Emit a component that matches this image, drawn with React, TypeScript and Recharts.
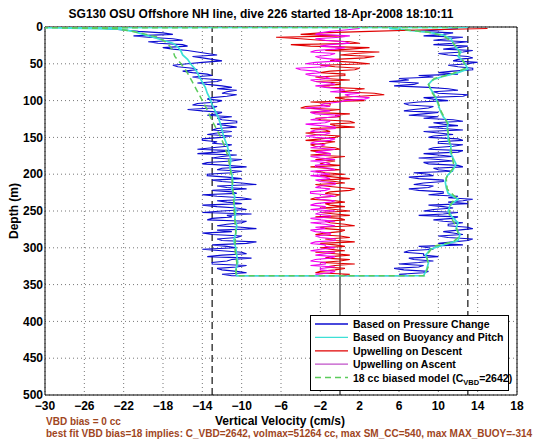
import { ScatterChart, Scatter, XAxis, YAxis, CartesianGrid, ReferenceLine } from "recharts";

// depth grids (m) for the noisy profiles
const depthGrid = [
  2, 6, 10, 14, 18, 22, 26, 30, 34, 38,
  42, 46, 50, 54, 58, 62, 66, 70, 74, 78,
  82, 86, 90, 94, 98, 102, 106, 110, 114, 118,
  122, 126, 130, 134, 138, 142, 146, 150, 154, 158,
  162, 166, 170, 174, 178, 182, 186, 190, 194, 198,
  202, 206, 210, 214, 218, 222, 226, 230, 234, 238,
  242, 246, 250, 254, 258, 262, 266, 270, 274, 278,
  282, 286, 290, 294, 298, 302, 306, 310, 314, 318,
  322, 326, 330, 334, 338,
];
const midGrid = [
  4, 8, 12, 16, 20, 24, 28, 32, 36, 40,
  44, 48, 52, 56, 60, 64, 68, 72, 76, 80,
  84, 88, 92, 96, 100, 104, 108, 112, 116, 120,
  124, 128, 132, 136, 140, 144, 148, 152, 156, 160,
  164, 168, 172, 176, 180, 184, 188, 192, 196, 200,
  204, 208, 212, 216, 220, 224, 228, 232, 236, 240,
  244, 248, 252, 256, 260, 264, 268, 272, 276, 280,
  284, 288, 292, 296, 300, 304, 308, 312, 316, 320,
  324, 328, 332, 336,
];

// pressure-change velocity, descent (cm/s)
const blueDown = [
  -24, -20.5, -17, -19.5, -16, -18.5, -15.5, -17, -14.5, -12.5,
  -14, -12, -15.5, -16.5, -14.5, -15, -13, -14, -12.5, -13.5,
  -11, -10.5, -12, -11.5, -13.5, -12.5, -15, -13, -14, -12.5,
  -11, -12, -10.5, -11.5, -12.5, -11, -13.5, -12, -14, -13,
  -11.5, -14.5, -12.5, -10.5, -13, -11, -14, -9.5, -12.5, -11,
  -13.5, -10, -12, -8.5, -11.5, -13, -10.5, -12.5, -9, -11.5,
  -14, -10.5, -12, -9, -11, -13.5, -10, -12.5, -8.5, -11,
  -13, -10.5, -12, -9.5, -11.5, -14, -10, -12, -9, -11.5,
  -13, -10.5, -12, -9.5, -11,
];
const blueDownMid = [
  -22, -18, -21, -17, -19.5, -16, -18, -15.5, -13.5, -15,
  -13, -14, -17, -15, -16, -13.5, -15, -12, -14.5, -12,
  -12.5, -11.5, -10.5, -13, -12, -14.5, -12.5, -15.5, -12, -13.5,
  -12.5, -10.5, -12.5, -10.5, -13, -12.5, -11, -14, -12.5, -11,
  -13, -11, -14.5, -12, -10, -13.5, -11.5, -12, -10, -13.5,
  -11.5, -13, -10, -12.5, -9.5, -11, -14, -10, -12.5, -10,
  -12.5, -9.5, -14, -11.5, -13, -9.5, -11.5, -10, -12.5, -14,
  -10, -12.5, -8.5, -13, -10.5, -12, -9.5, -13.5, -11, -13,
  -9.5, -12.5, -10.5, -12,
];

// pressure-change velocity, ascent (cm/s), by depth
const blueUp = [
  12, 8, 10.5, 12.5, 9.5, 11.5, 13, 10.5, 12.5, 11,
  13.5, 11.5, 13, 12, 13.5, 10, 8, 6, 5, 7.5,
  9, 12, 10, 12.5, 9.5, 8, 7, 9, 6.5, 8.5,
  10, 11.5, 9.5, 12, 10.5, 8.5, 11.5, 9, 12.5, 10,
  11.5, 9, 12, 10, 8, 11.5, 9, 12.5, 10, 7.5,
  9.5, 8, 10.5, 7.5, 9, 8, 10.5, 12, 13.5, 11,
  9, 11.5, 8.5, 10.5, 12, 9.5, 12.5, 11, 13.5, 10.5,
  12.5, 11, 13, 10, 8, 9.5, 6.5, 8.5, 7, 9.5,
  6, 8, 6.5, 8.5, 7,
];
const blueUpMid = [
  10, 11.5, 8.5, 11, 13, 9.5, 12, 13.5, 10, 13,
  12, 14, 11, 13.5, 11.5, 12, 9.5, 7, 8, 5.5,
  11, 9.5, 13, 8.5, 11, 6.5, 9.5, 7.5, 10, 7,
  8.5, 12.5, 10.5, 9, 12.5, 10, 9.5, 12, 10, 12.5,
  9.5, 12.5, 8.5, 11.5, 10, 8.5, 12, 9.5, 11.5, 9,
  7, 10.5, 8.5, 9.5, 7, 10.5, 9, 11, 12.5, 13,
  10.5, 9.5, 12, 8, 11.5, 10.5, 11, 13, 12, 11.5,
  10, 13.5, 11.5, 12.5, 9, 7, 8.5, 10, 7.5, 8,
  8.5, 5.5, 9, 6,
];

// upwelling on descent
const redDown = [
  15, 3, -4, -6.5, -2, 2, -3, 1, 4, 0,
  2.5, -1, 3, -0.5, 1.5, -2, 0.5, -1.5, -2.5, 0,
  -1, 1.5, 3.5, 2, 0.5, -3, -1, -4, -1.5, 1,
  0, -2, 1.5, -0.5, -3, -1, -2.5, -0.5, -3.5, -1.5,
  -2.5, 0, -2, -3, -1, -0.5, -2, -3, 0, -1.5,
  -2, 1, -0.5, -2.5, 0, 1, -1.5, -0.5, -3, 0.5,
  -1, -2, 1, -0.5, -2.5, 0.5, -1, 1.5, -1.5, 0,
  -2.5, 1, -0.5, -2, 0.5, -1, -2.5, 1, -1.5, 0,
  1.5, -1.5, -0.5, -2.5, 0,
];
const redDownMid = [
  8, -2, 0.5, -4, 1, -5, 3, -1.5, 1.5, 3.5,
  -0.5, 1.5, -2, 2, -1, 0.5, -2.5, 1, 0, -2,
  2.5, 0, 4.5, -0.5, 2.5, -1, -3.5, 0, -3, -0.5,
  -2.5, 1, -1, 1.5, -1.5, -3.5, 0, -2, -0.5, -3,
  -0.5, -3, -1, 0.5, -2.5, -1.5, 0, -1.5, -2.5, 0.5,
  -0.5, -2, 0.5, -1.5, 1.5, -1, 0, -2.5, -0.5, -1.5,
  0.5, -0.5, -2, 1, 0, -1.5, 0.5, -2, 0.5, -1.5,
  0, -1.5, 1.5, -0.5, -2, 0.5, -0.5, -1, 1, -2,
  -0.5, 0.5, -2, 1,
];

// upwelling on ascent
const magentaUp = [
  2, -1, -2.5, 0, -1.5, 1, -2, -0.5, -3, -1,
  -2, 0, -3.5, -1.5, -4, -2, -3, -1, -2.5, -0.5,
  -1.5, 0.5, 2, 1, 2.5, 0, -2, -3.5, -1, -2.5,
  -0.5, -3, -1.5, -2, -0.5, -3, -1.5, -2.5, -1, -3,
  -2, -0.5, -2.5, -1, -2, -3, -1, -2.5, -0.5, -2,
  -3, -1, -2, -0.5, -2.5, -1.5, -3, -0.5, -2, -1,
  -3, -1.5, -0.5, -2.5, -1, -2, -3, -0.5, -1.5, -2.5,
  -1, -2, -0.5, -3, -1.5, -2, -0.5, -2.5, -1, -3,
  -1.5, -0.5, -2, -1, -1.5,
];
const magentaUpMid = [
  0.5, -2, 1, -2.5, 0.5, -1, 0.5, -2.5, -0.5, -2.5,
  -0.5, -2.5, -1, -4.5, -2.5, -3.5, -1.5, -3, -1, -2.5,
  0, -1, 0.5, 3, 0.5, -1.5, -1, -2, -3, 0,
  -2, -1, -3.5, -0.5, -2.5, -1, -3.5, -0.5, -2.5, -1.5,
  -3, -1.5, -1, -3, -0.5, -1.5, -2.5, -1, -3, -1,
  -1.5, -2.5, -0.5, -2, -1, -3, -1.5, -2.5, -0.5, -2.5,
  -1.5, -3, -2, -1, -3, -0.5, -1.5, -2.5, -3, -1,
  -2.5, -0.5, -2.5, -1.5, -0.5, -3, -1.5, -0.5, -2.5, -1.5,
  -3, -2, -0.5, -2.5,
];

// buoyancy and pitch model
const cyanDownDepth = [
  0.4, 0.8, 3, 6, 10, 14, 18, 22, 27, 32, 38, 44, 50, 56, 62,
  68, 75, 82, 90, 98, 106, 114, 122, 130, 140, 150, 160, 170, 180, 190,
  200, 210, 220, 230, 240, 250, 260, 270, 280, 290, 300, 310, 320, 330, 338,
];
const cyanDown = [
  13, -30, -22.5, -21, -20, -19, -18, -17, -16.5, -16.2, -16, -15.5, -15.2, -14.8, -14.5,
  -14.3, -14, -13.7, -13.5, -13.2, -13, -12.7, -12.4, -12.2, -12, -11.8, -11.5, -11.3, -11.1, -11.2,
  -11, -10.9, -11, -10.7, -10.8, -10.6, -10.7, -10.5, -10.6, -10.8, -10.6, -10.5, -10.4, -10.6, -10.5,
];
const cyanUpDepth = [
  338, 330, 320, 310, 302, 296, 290, 282, 274, 266, 258, 250, 242, 234, 226, 218, 210,
  202, 194, 186, 178, 170, 162, 154, 146, 138, 130, 122, 114, 106, 98, 90, 84,
  78, 72, 67, 62, 57, 52, 46, 40, 34, 28, 22, 16, 11, 7, 4, 2,
];
const cyanUp = [
  8.5, 8.8, 9, 8.7, 9.2, 10.5, 12, 12.2, 11.8, 12, 11.4, 11, 11.2, 12, 11, 10.8, 10.7,
  10.9, 11.5, 11.8, 11.5, 11.2, 11.3, 11, 11, 10.9, 11, 10.5, 10.2, 10, 9.8, 9.5, 9.2,
  9, 9.4, 10.5, 12, 13, 12.8, 12.5, 12, 12.3, 11.8, 11.5, 11.3, 10.5, 9, 6.5, 5,
];

// 18 cc biased model
const greenDownDepth = [
  0.6, 1, 2, 5, 9, 14, 20, 26, 32, 40, 48, 56, 65, 75, 85, 95,
  105, 115, 125, 135, 145, 160, 175, 190, 205, 220, 240, 260, 280, 300, 320, 338,
];
const greenDown = [
  12, -30, -23, -21.5, -20, -18.5, -17.8, -17.3, -17, -16.8, -16.3, -15.8, -15.4, -15, -14.6, -14.2,
  -13.8, -13.4, -13.1, -12.7, -12.3, -11.8, -11.4, -11.2, -11, -10.9, -10.8, -10.7, -10.6, -10.7, -10.5, -10.6,
];
const greenUpDepth = [
  338, 325, 310, 298, 292, 285, 270, 255, 240, 232, 220, 205, 190, 175, 160, 145,
  130, 115, 100, 88, 78, 70, 63, 56, 48, 40, 30, 20, 12, 7, 3,
];
const greenUp = [
  8.6, 9, 8.8, 9.5, 11.5, 12.1, 11.8, 11.1, 11.3, 11.8, 10.9, 10.8, 11.6, 11.4, 11.2, 11,
  10.9, 10.3, 9.9, 9.3, 9, 9.6, 11.5, 12.8, 12.6, 12.2, 12, 11.4, 10.5, 9, 6,
];

const xTicks = [-30, -26, -22, -18, -14, -10, -6, -2, 2, 6, 10, 14, 18];
const yTicks = [0, 50, 100, 150, 200, 250, 300, 350, 400, 450, 500];

const legendItems = [
  { label: "Based on Pressure Change", color: "#0b0bd0", dash: "" },
  { label: "Based on Buoyancy and Pitch", color: "#3de0d6", dash: "" },
  { label: "Upwelling on Descent", color: "#e00000", dash: "" },
  { label: "Upwelling on Ascent", color: "#c050c8", dash: "" },
  { label: "18 cc biased model", color: "#5ccc5c", dash: "6 4" },
];

const FONT = "'Liberation Sans', Arial, Helvetica, sans-serif";
const BROWN = "#a0461e";

function pts(depths: number[], vals: number[]) {
  return depths.map((d, i) => ({ v: vals[i], d }));
}

function merged(dA: number[], vA: number[], dB: number[], vB: number[]) {
  return [...pts(dA, vA), ...pts(dB, vB)].sort((a, b) => a.d - b.d);
}

const blueData = [
  ...merged(depthGrid, blueDown, midGrid, blueDownMid),
  ...merged(depthGrid, blueUp, midGrid, blueUpMid).reverse(),
];
const cyanData = [...pts(cyanDownDepth, cyanDown), ...pts(cyanUpDepth, cyanUp)];
const greenData = [...pts(greenDownDepth, greenDown), ...pts(greenUpDepth, greenUp)];
const redData = merged(depthGrid, redDown, midGrid, redDownMid);
const magentaData = merged(depthGrid, magentaUp, midGrid, magentaUpMid);

const noDot = () => <g />;
const fmtX = (t: number) => (t < 0 ? "\u2212" + Math.abs(t) : String(t));

export default function App() {
  const tickStyle = { fill: "#000", fontSize: 12, fontWeight: "bold", fontFamily: FONT };
  return (
    <div style={{ position: "absolute", left: 0, top: 0, width: 560, height: 442, background: "#fff" }}>
      <ScatterChart width={560} height={442} margin={{ top: 27, right: 43, bottom: 27, left: 0 }}>
        <CartesianGrid strokeDasharray="1 3" stroke="#777" />
        <XAxis
          type="number"
          dataKey="v"
          domain={[-30, 18]}
          ticks={xTicks}
          interval={0}
          allowDataOverflow
          height={20}
          tickSize={0}
          tickMargin={6}
          tickLine={false}
          axisLine={{ stroke: "#000" }}
          tick={tickStyle}
          tickFormatter={fmtX}
        />
        <YAxis
          type="number"
          dataKey="d"
          domain={[0, 500]}
          reversed
          ticks={yTicks}
          interval={0}
          allowDataOverflow
          width={45}
          tickSize={0}
          tickMargin={2}
          tickLine={false}
          axisLine={{ stroke: "#000" }}
          tick={tickStyle}
        />
        <Scatter data={blueData} fill="#0b0bd0" line={{ stroke: "#0b0bd0", strokeWidth: 1.1 }} shape={noDot} isAnimationActive={false} />
        <Scatter data={cyanData} fill="#3de0d6" line={{ stroke: "#3de0d6", strokeWidth: 1.7 }} shape={noDot} isAnimationActive={false} />
        <Scatter data={redData} fill="#e00000" line={{ stroke: "#e00000", strokeWidth: 1.1 }} shape={noDot} isAnimationActive={false} />
        <Scatter data={magentaData} fill="#f000f0" line={{ stroke: "#f000f0", strokeWidth: 1.1 }} shape={noDot} isAnimationActive={false} />
        <Scatter data={greenData} fill="#5ccc5c" line={{ stroke: "#5ccc5c", strokeWidth: 1.5, strokeDasharray: "6 4" }} shape={noDot} isAnimationActive={false} />
        <ReferenceLine x={0} stroke="#000" strokeWidth={1} />
        <ReferenceLine x={-13} stroke="#333" strokeWidth={1.4} strokeDasharray="7 4" />
        <ReferenceLine x={13} stroke="#333" strokeWidth={1.4} strokeDasharray="7 4" />
        <ReferenceLine y={0} stroke="#000" strokeWidth={1} />
        <ReferenceLine x={18} stroke="#000" strokeWidth={1} />
      </ScatterChart>
      <svg
        width={560}
        height={442}
        style={{ position: "absolute", left: 0, top: 0, pointerEvents: "none" }}
        fontFamily={FONT}
        fontWeight="bold"
      >
        <text x={261} y={18} textAnchor="middle" fontSize={12} fill="#000">
          SG130 OSU Offshore NH line, dive 226 started 18-Apr-2008 18:10:11
        </text>
        <text x={18} y={211} textAnchor="middle" fontSize={12} fill="#000" transform="rotate(-90 18 211)">
          Depth (m)
        </text>
        <text x={280} y={425} textAnchor="middle" fontSize={12} fill="#000">
          Vertical Velocity (cm/s)
        </text>
        <text x={46} y={425} fontSize={10} fill={BROWN}>
          VBD bias = 0 cc
        </text>
        <text x={46} y={437} fontSize={10} fill={BROWN}>
          best fit VBD bias=18 implies: C_VBD=2642, volmax=51264 cc, max SM_CC=540, max MAX_BUOY=-314
        </text>
        <rect x={310.5} y={315.5} width={198} height={75} fill="#fff" stroke="#000" strokeWidth={1} />
        {legendItems.map((item, i) => {
          const y = 324 + i * 13.4;
          return (
            <g key={item.label}>
              <line x1={315} x2={348} y1={y} y2={y} stroke={item.color} strokeWidth={item.dash ? 1.5 : 1.3} strokeDasharray={item.dash || undefined} />
              <text x={353} y={y + 4} fontSize={10.5} fill="#000">
                {item.label}
                {i === 4 ? (
                  <>
                    {" (C"}
                    <tspan fontSize={7.5} dy={3}>VBD</tspan>
                    <tspan dy={-3}>=2642)</tspan>
                  </>
                ) : null}
              </text>
            </g>
          );
        })}
      </svg>
    </div>
  );
}
